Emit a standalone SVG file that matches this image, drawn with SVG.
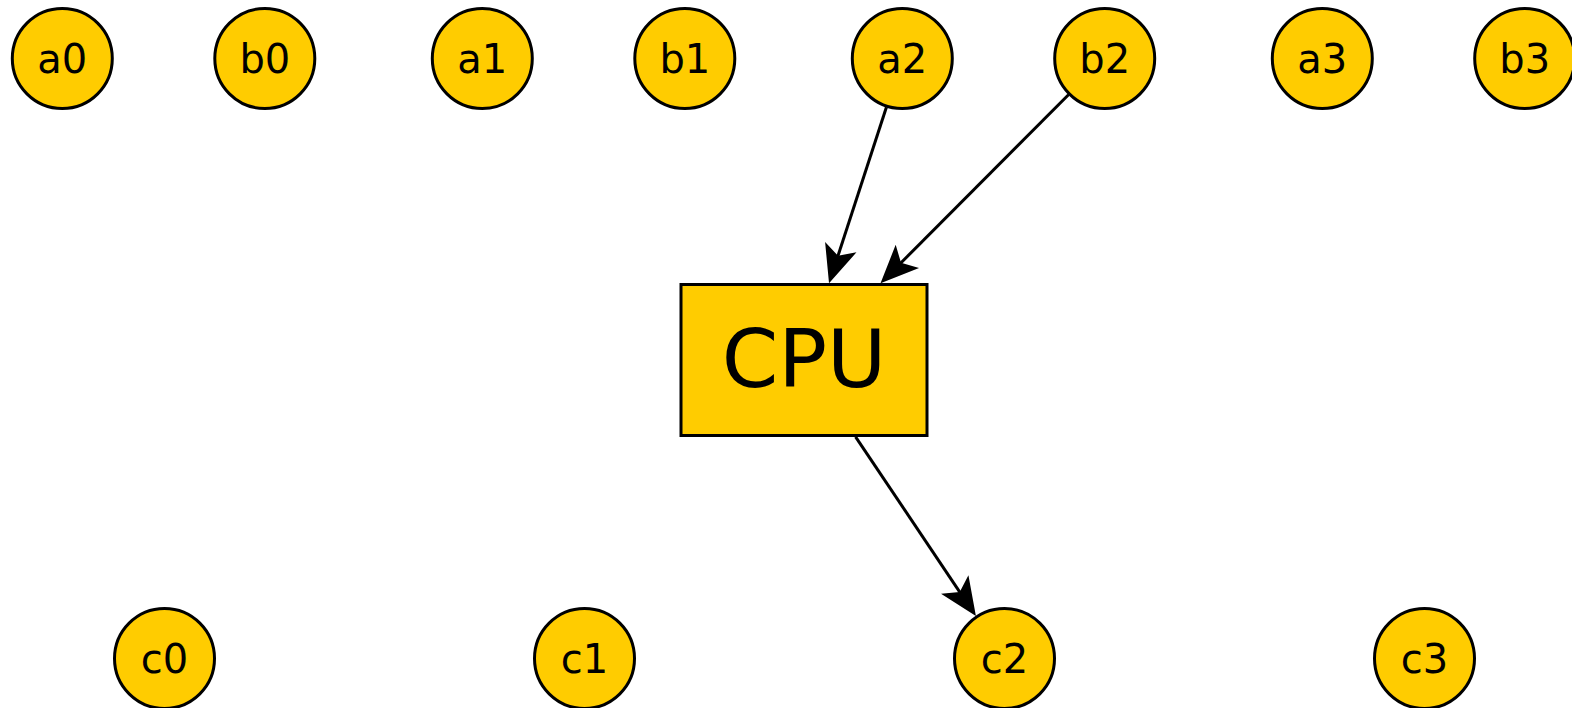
<svg xmlns="http://www.w3.org/2000/svg" width="1572" height="708" viewBox="0 0 1572 708">
<style>
.n{fill:#ffcc00;stroke:#000;stroke-width:3}
.t{font-family:"DejaVu Sans",sans-serif;font-size:40px;text-anchor:middle;fill:#000}
.cpu{font-family:"DejaVu Sans",sans-serif;font-size:81px;text-anchor:middle;fill:#000}
.e{stroke:#000;stroke-width:3;fill:none;marker-end:url(#ah)}
</style>
<defs>
<marker id="ah" markerUnits="userSpaceOnUse" viewBox="-40 -18 40 36" markerWidth="40" markerHeight="36" refX="-28" refY="0" orient="auto">
<path d="M0,0 L-38,-16.5 L-29,0 L-38,16.5 Z" fill="#000"/>
</marker>
</defs>
<rect width="1572" height="708" fill="#fff"/>
<g id="connectors">
<line class="e" x1="886.4" y1="107.2" x2="837.7" y2="256.7"/>
<line class="e" x1="1068.5" y1="94.8" x2="900.3" y2="263.5"/>
<line class="e" x1="855.6" y1="436.8" x2="960.3" y2="592.8"/>
</g>
<g id="a0"><circle class="n" cx="62.3" cy="58.5" r="50"/><text class="t" x="62.3" y="73">a0</text></g>
<g id="b0"><circle class="n" cx="264.8" cy="58.5" r="50"/><text class="t" x="264.8" y="73">b0</text></g>
<g id="a1"><circle class="n" cx="482.3" cy="58.5" r="50"/><text class="t" x="482.3" y="73">a1</text></g>
<g id="b1"><circle class="n" cx="684.8" cy="58.5" r="50"/><text class="t" x="684.8" y="73">b1</text></g>
<g id="a2"><circle class="n" cx="902.3" cy="58.5" r="50"/><text class="t" x="902.3" y="73">a2</text></g>
<g id="b2"><circle class="n" cx="1104.7" cy="58.5" r="50"/><text class="t" x="1104.7" y="73">b2</text></g>
<g id="a3"><circle class="n" cx="1322.3" cy="58.5" r="50"/><text class="t" x="1322.3" y="73">a3</text></g>
<g id="b3"><circle class="n" cx="1524.7" cy="58.5" r="50"/><text class="t" x="1524.7" y="73">b3</text></g>
<g id="CPU"><rect class="n" x="681" y="284.5" width="246" height="151"/><text class="cpu" x="804" y="387">CPU</text></g>
<g id="c0"><circle class="n" cx="164.5" cy="658.5" r="50"/><text class="t" x="164.5" y="673">c0</text></g>
<g id="c1"><circle class="n" cx="584.5" cy="658.5" r="50"/><text class="t" x="584.5" y="673">c1</text></g>
<g id="c2"><circle class="n" cx="1004.5" cy="658.5" r="50"/><text class="t" x="1004.5" y="673">c2</text></g>
<g id="c3"><circle class="n" cx="1424.5" cy="658.5" r="50"/><text class="t" x="1424.5" y="673">c3</text></g>
</svg>
